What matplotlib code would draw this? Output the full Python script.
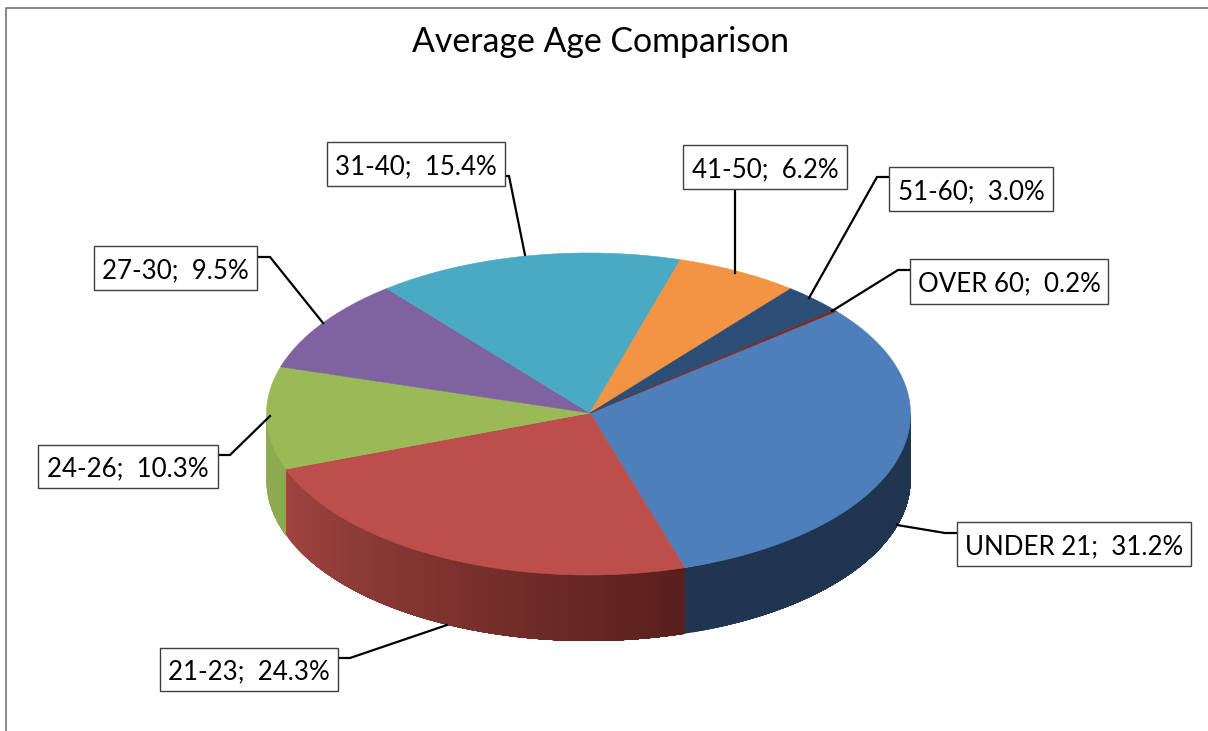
import numpy as np
import matplotlib
matplotlib.use('Agg')
import matplotlib.pyplot as plt
from matplotlib.patches import Polygon, Rectangle

# slices, clockwise from the OVER 60 / UNDER 21 edge
categories = ['UNDER 21', '21-23', '24-26', '27-30', '31-40', '41-50', '51-60', 'OVER 60']
values = [31.2, 24.3, 10.3, 9.5, 15.4, 6.2, 3.0, 0.2]
title = 'Average Age Comparison'

top_colors = ['#4E7FBA', '#BC4F4B', '#9ABA58', '#7F62A0', '#4AA9C3', '#F39445', '#2C4D75', '#772C2A']
# side wall colour at the left and right end of each slice
side_left = ['#1F3550', '#A04540', '#8CAA50', '#7F62A0', '#4AA9C3', '#F39445', '#2C4D75', '#772C2A']
side_right = ['#1F3550', '#591F1C', '#8CAA50', '#7F62A0', '#4AA9C3', '#F39445', '#2C4D75', '#772C2A']

# x0, y0, x1, y1 of each label box, in image pixels
boxes = [(957, 522, 1191, 566), (160, 648, 338, 691), (38, 445, 218, 488), (94, 246, 257, 290),
         (327, 142, 505, 186), (683, 145, 847, 189), (889, 167, 1053, 211), (910, 259, 1108, 304)]
leaders = [[(957, 533), (945, 533), (897, 525)],
           [(338, 658), (350, 658), (447, 625)],
           [(218, 455), (230, 455), (270, 416)],
           [(257, 257), (270, 257), (323, 323)],
           [(505, 176), (509, 176), (525, 255)],
           [(735, 189), (735, 273)],
           [(889, 177), (877, 177), (809, 298)],
           [(910, 270), (898, 270), (832, 311)]]

cx, cy, rx, ry, depth = 588.5, 414, 322, 161, 66
apex_x, apex_y = 590, 413
start_angle = 39.6


def rgb(c):
    return np.array(matplotlib.colors.to_rgb(c))


fig = plt.figure(figsize=(12.08, 7.31), dpi=100)
ax = fig.add_axes([0, 0, 1, 1])
ax.set_xlim(0, 1208)
ax.set_ylim(731, 0)
ax.axis('off')

# chart frame, cut off by the image on the right and bottom
ax.plot([6, 6, 1208], [731, 8, 8], color='#7f7f7f', lw=1.3)

fracs = np.array(values) / sum(values)
edges = start_angle - 360 * np.concatenate([[0], np.cumsum(fracs)])

# side walls first, only the front half of the ellipse shows
for i in range(len(values)):
    t = np.linspace(edges[i + 1], edges[i], 80)
    t = t[np.sin(np.radians(t)) < 0]
    if len(t) < 2:
        continue
    xs = cx + rx * np.cos(np.radians(t))
    ys = cy - ry * np.sin(np.radians(t))
    for j in range(len(t) - 1):
        f = (j + 0.5) / (len(t) - 1)
        col = rgb(side_left[i]) * (1 - f) + rgb(side_right[i]) * f
        # each strip runs on to the slice end, the next one paints over it
        pts = list(zip(xs[j:], ys[j:])) + list(zip(xs[j:][::-1], ys[j:][::-1] + depth))
        ax.add_patch(Polygon(pts, closed=True, fc=col, ec='none', lw=0))

# top face
for i in range(len(values)):
    t = np.radians(np.linspace(edges[i], edges[i + 1], 120))
    pts = [(apex_x, apex_y)] + list(zip(cx + rx * np.cos(t), cy - ry * np.sin(t)))
    ax.add_patch(Polygon(pts, closed=True, fc=top_colors[i], ec=top_colors[i], lw=0.4))

for line in leaders:
    ax.plot([p[0] for p in line], [p[1] for p in line], color='black', lw=1.6,
            solid_joinstyle='miter')

for name, v, b in zip(categories, values, boxes):
    ax.add_patch(Rectangle((b[0], b[1]), b[2] - b[0], b[3] - b[1], fc='white', ec='#404040', lw=1.0, zorder=3))
    ax.text((b[0] + b[2]) / 2, (b[1] + b[3]) / 2 + 2.5, f'{name};  {v:.1f}%', ha='center', va='center',
            family='Lato', fontsize=18.6, color='black', zorder=4)

ax.text(601, 42, title, ha='center', va='center', family='Lato', fontsize=24.4, color='black')

fig.savefig('out.png', dpi=100)
